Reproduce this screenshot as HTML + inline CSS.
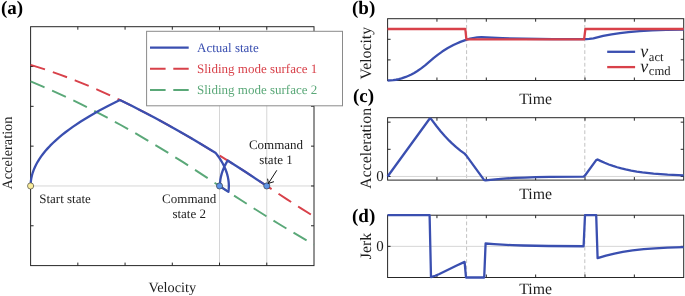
<!DOCTYPE html>
<html><head><meta charset="utf-8"><style>html,body{margin:0;padding:0;background:#fff;overflow:hidden}svg{display:block;will-change:transform;text-rendering:geometricPrecision}</style></head><body>
<svg width="685" height="296" viewBox="0 0 685 296">
<rect width="685" height="296" fill="#fff"/>
<path d="M219.53 26.7V265.6M266.77 26.7V265.6M30.6 185.97H314" stroke="#d6d6d6" stroke-width="1" fill="none"/>
<rect x="30.6" y="26.7" width="283.4" height="238.9" fill="none" stroke="#262626" stroke-width="1"/>
<path d="M77.83 265.6v-3M77.83 26.7v3M125.07 265.6v-3M125.07 26.7v3M172.3 265.6v-3M172.3 26.7v3M219.53 265.6v-3M219.53 26.7v3M266.77 265.6v-3M266.77 26.7v3M30.6 66.52h3M314 66.52h-3M30.6 106.33h3M314 106.33h-3M30.6 146.15h3M314 146.15h-3M30.6 185.97h3M314 185.97h-3M30.6 225.78h3M314 225.78h-3" stroke="#262626" stroke-width="1" fill="none"/>
<g fill="none" stroke-width="1.95" stroke-dasharray="15.1 8.27">
<polyline points="30.6,64.89 37.83,67.11 45.2,69.5 52.57,72.01 59.95,74.63 67.46,77.43 74.97,80.34 82.49,83.36 90.14,86.56 97.8,89.87 105.6,93.35 113.39,96.95 121.33,100.72 129.27,104.6 137.35,108.66 145.58,112.9 153.8,117.24 169.11,125.61 184.7,134.48 200.73,143.93 217.17,153.96 229.36,161.6 241.98,169.67 255.17,178.27 275.44,191.73 287.06,199.35 300.67,208.11 314,216.51" stroke="#d8414a"/>
<polyline points="30.6,81.47 42.93,86.57 55.41,92.02 68.03,97.82 80.93,104.05 93.97,110.63 107.3,117.64 120.77,124.99 134.52,132.77 146.14,139.55 157.91,146.59 169.96,153.98 182.29,161.7 192.79,168.4 203.42,175.31 229.36,192.5 241.27,200.29 254.03,208.49 266.36,216.26 278.56,223.76 290.61,231.01 302.37,237.9 314,244.54" stroke="#5aa878"/>
</g>
<polyline points="30.6,185.97 30.69,183.27 30.95,180.58 31.38,177.9 31.99,175.22 32.77,172.54 33.73,169.86 34.86,167.18 36.18,164.48 37.65,161.8 39.32,159.1 41.15,156.42 43.15,153.74 45.32,151.05 47.67,148.37 50.19,145.69 52.91,142.99 55.78,140.31 58.83,137.63 62.05,134.95 65.44,132.27 69,129.59 72.77,126.89 80.78,121.53 89.47,116.16 98.87,110.8 108.92,105.46 119.86,100.01 131.21,105.56 142.69,111.4 154.32,117.52 166.17,123.98 178.21,130.75 190.48,137.85 202.99,145.29 215.77,153.1 217.63,155.52 219.34,157.93 220.91,160.35 222.34,162.79 223.63,165.21 224.77,167.63 225.77,170.05 226.64,172.49 227.36,174.91 227.94,177.35 228.37,179.76 228.67,182.18 228.82,184.6 228.83,187.02 228.7,189.42 228.42,191.88 219.88,186.2 219.98,183.01 220.34,179.81 220.94,176.6 221.79,173.4 222.88,170.19 224.22,167.01 225.77,163.88 227.68,160.53 245.67,172.06 264.4,184.38" fill="none" stroke="#3a4fb0" stroke-width="2.3" stroke-linejoin="round"/>
<circle cx="30.6" cy="185.97" r="3.1" fill="#f9ec9c" stroke="#333" stroke-width="0.6"/>
<circle cx="219.53" cy="185.97" r="3.1" fill="#5e93e6" stroke="#333" stroke-width="0.6"/>
<circle cx="266.77" cy="185.97" r="3.1" fill="#5e93e6" stroke="#333" stroke-width="0.6"/>
<g font-family="'Liberation Serif', serif" font-size="13" fill="#1e1e1e">
<text x="39.2" y="202.9">Start state</text>
<text x="189.2" y="203" text-anchor="middle">Command</text>
<text x="189.2" y="217.9" text-anchor="middle">state 2</text>
<text x="276" y="149" text-anchor="middle">Command</text>
<text x="276" y="164.2" text-anchor="middle">state 1</text>
</g>
<path d="M276.8 170.3L268.4 183.4M267.6 178.7L268.4 183.4L273.9 181.7" stroke="#111" stroke-width="1" fill="none"/>
<rect x="146.6" y="31.3" width="195.9" height="74.5" fill="#fff" stroke="#8a8a8a" stroke-width="1"/>
<line x1="150" y1="47.7" x2="188.7" y2="47.7" stroke="#3a4fb0" stroke-width="2.3"/>
<line x1="150" y1="68.8" x2="188.7" y2="68.8" stroke="#d8414a" stroke-width="1.95" stroke-dasharray="15.6 7.7"/>
<line x1="150" y1="89.9" x2="188.7" y2="89.9" stroke="#5aa878" stroke-width="1.95" stroke-dasharray="15.6 7.7"/>
<g font-family="'Liberation Serif', serif" font-size="13">
<text x="197" y="52" fill="#3a4fb0">Actual state</text>
<text x="197" y="72.8" fill="#d8414a">Sliding mode surface 1</text>
<text x="197" y="93.6" fill="#5aa878">Sliding mode surface 2</text>
</g>
<g font-family="'Liberation Serif', serif" font-size="19" font-weight="bold" fill="#000">
<text x="1" y="14">(a)</text>
<text x="352" y="14.3">(b)</text>
<text x="353" y="101.5">(c)</text>
<text x="352" y="221.5">(d)</text>
</g>
<g font-family="'Liberation Serif', serif" font-size="14.3" fill="#1e1e1e" text-anchor="middle">
<text x="172.3" y="291.7">Velocity</text>
<text transform="translate(11.8 153.1) rotate(-90)">Acceleration</text>
</g>
<path d="M466.6 18.7V80.5M466.6 117.7V180.1M466.6 215.2V277.5M584.8 18.7V80.5M584.8 117.7V180.1M584.8 215.2V277.5" stroke="#c2c2c2" stroke-width="1" stroke-dasharray="3.8 2.5" fill="none"/>
<path d="M387.6 176.45H683.7M387.6 246.35H683.7" stroke="#d6d6d6" stroke-width="1"/>
<rect x="387.6" y="18.7" width="296.1" height="61.8" fill="none" stroke="#262626" stroke-width="1"/>
<path d="M436.95 80.5v-3M436.95 18.7v3M486.3 80.5v-3M486.3 18.7v3M535.65 80.5v-3M535.65 18.7v3M585 80.5v-3M585 18.7v3M634.35 80.5v-3M634.35 18.7v3M387.6 59.9h3M683.7 59.9h-3M387.6 39.3h3M683.7 39.3h-3" stroke="#262626" stroke-width="1" fill="none"/>
<rect x="387.6" y="117.7" width="296.1" height="62.4" fill="none" stroke="#262626" stroke-width="1"/>
<path d="M436.95 180.1v-3M436.95 117.7v3M486.3 180.1v-3M486.3 117.7v3M535.65 180.1v-3M535.65 117.7v3M585 180.1v-3M585 117.7v3M634.35 180.1v-3M634.35 117.7v3M387.6 176.45h3M683.7 176.45h-3M387.6 149.3h3M683.7 149.3h-3M387.6 122.15h3M683.7 122.15h-3" stroke="#262626" stroke-width="1" fill="none"/>
<rect x="387.6" y="215.2" width="296.1" height="62.3" fill="none" stroke="#262626" stroke-width="1"/>
<path d="M436.95 277.5v-3M436.95 215.2v3M486.3 277.5v-3M486.3 215.2v3M535.65 277.5v-3M535.65 215.2v3M585 277.5v-3M585 215.2v3M634.35 277.5v-3M634.35 215.2v3M387.6 246.35h3M683.7 246.35h-3" stroke="#262626" stroke-width="1" fill="none"/>
<g fill="none" stroke-width="2.3" stroke-linejoin="round">
<polyline points="387.6,80.5 390.4,80.42 393.2,80.16 396,79.75 398.8,79.16 401.6,78.4 405.8,76.95 408.6,75.78 411.4,74.44 414.2,72.93 417,71.25 421.2,68.41 425.4,65.2 433.8,57.92 438,54.57 442.2,51.57 447.8,48.06 453.4,45.06 456.2,43.73 460.4,41.92 464.6,40.33 467.4,39.4 470.2,38.64 473,38.05 477.2,37.47 481.4,37.27 502.4,38.22 523.4,38.75 552.8,39.09 586.4,39.18 589.2,38.97 593.4,38.34 603.2,35.98 611.6,34.34 620,33.08 628.4,32.11 639.6,31.17 652.2,30.44 666.2,29.91 683.7,29.52" stroke="#3a4fb0"/>
<polyline points="387.6,29 465.3,29 466.4,39.3 584.1,39.3 585.4,29 683.7,29" stroke="#d8414a"/>
<polyline points="387.6,176.45 429.6,118.72 431,118.88 436.6,126.27 440.8,131.44 445,136.25 449.2,140.68 452,143.41 456.2,147.18 460.4,150.58 464.6,153.63 466,155.14 484.2,180.15 485.6,180.33 495.4,179.28 506.6,178.42 515,177.95 524.8,177.54 536,177.21 550,176.93 583.6,176.61 585,175.52 596.2,160.13 597.6,159.46 600.4,160.87 604.6,162.78 608.8,164.46 613,165.94 617.2,167.25 621.4,168.4 625.6,169.41 631.2,170.56 636.8,171.53 642.4,172.34 653.6,173.59 667.6,174.63 683.7,175.37" stroke="#3a4fb0"/>
<polyline points="387.6,215.2 429.6,215.2 431,277.18 435.2,275.76 439.4,273.97 456.2,265.69 464.6,261.9 466,277.5 484.2,277.5 485.6,243.52 494,244.18 502.4,244.7 512.2,245.14 523.4,245.51 548.6,245.98 583.6,246.23 585,215.2 596.2,215.2 597.6,258.21 601.8,256.85 606,255.62 614.4,253.55 622.8,251.91 632.6,250.44 643.8,249.22 655,248.35 667.6,247.69 683.7,247.14" stroke="#3a4fb0"/>
</g>
<g font-family="'Liberation Serif', serif" font-size="15.8" fill="#1e1e1e" text-anchor="middle">
<text x="535.65" y="103.8">Time</text>
<text x="535.65" y="199">Time</text>
<text x="535.65" y="293.5">Time</text>
<text transform="translate(371.2 53.2) rotate(-90)">Velocity</text>
<text transform="translate(371.2 148.3) rotate(-90)">Acceleration</text>
<text transform="translate(371.4 246) rotate(-90)">Jerk</text>
</g>
<g font-family="'Liberation Serif', serif" font-size="15" fill="#1e1e1e" text-anchor="end">
<text x="383.8" y="181.1">0</text>
<text x="383.8" y="251.3">0</text>
</g>
<line x1="607.2" y1="51.8" x2="635.1" y2="51.8" stroke="#3a4fb0" stroke-width="2.3"/>
<line x1="607.2" y1="67.1" x2="635.1" y2="67.1" stroke="#d8414a" stroke-width="2.3"/>
<g font-family="'Liberation Serif', serif" fill="#1e1e1e">
<text x="640.2" y="56.9" font-size="18" font-style="italic">v<tspan font-size="12.6" font-style="normal" dx="0.6" dy="3.6">act</tspan></text>
<text x="640.2" y="71.8" font-size="18" font-style="italic">v<tspan font-size="12.6" font-style="normal" dx="0.6" dy="3.6">cmd</tspan></text>
</g>
</svg>
</body></html>
